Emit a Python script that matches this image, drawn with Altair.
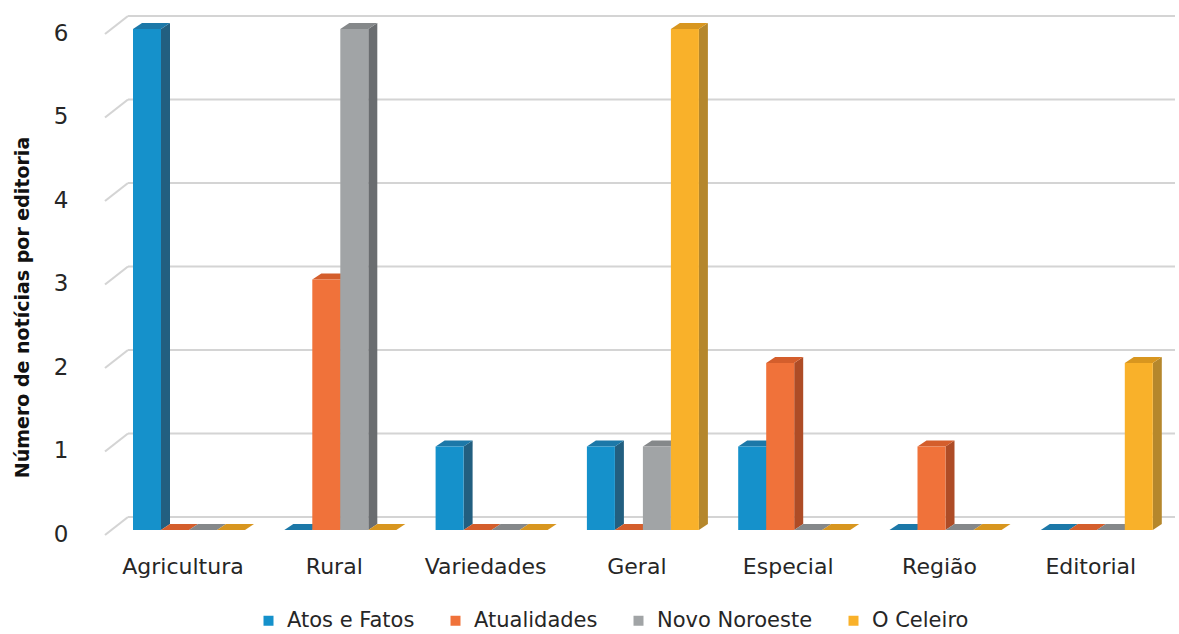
import altair as alt
import pandas as pd

# ---------------- data ----------------
categories = ["Agricultura", "Rural", "Variedades", "Geral", "Especial", "Região", "Editorial"]
series = ["Atos e Fatos", "Atualidades", "Novo Noroeste", "O Celeiro"]
atos_e_fatos = [6, 0, 1, 1, 1, 0, 0]
atualidades = [0, 3, 0, 0, 2, 1, 0]
novo_noroeste = [0, 6, 0, 1, 0, 0, 0]
o_celeiro = [0, 0, 0, 6, 0, 0, 2]
y_ticks = [0, 1, 2, 3, 4, 5, 6]

front_colors = ["#1591CB", "#F0723A", "#A1A4A6", "#F9B12A"]
side_colors = ["#225F80", "#AE4C26", "#6A6D70", "#B5872C"]
top_colors = ["#1C78A8", "#D45E2C", "#85888A", "#D8961F"]

values = [atos_e_fatos, atualidades, novo_noroeste, o_celeiro]

# ---------------- layout (pixels) ----------------
LEFT, TOP, W, H, BOTTOM = 100, 10, 1079, 530, 94
SX = 151.3          # pixels per category
SY = 83.5           # pixels per unit of value
X_ORIGIN = 113.35   # pixel where first category starts
Y_ZERO = 530        # pixel of value 0 on the bar fronts
BAR_W = 28 / SX
PAD = (SX - 4 * 28) / 2 / SX
DX = 9 / SX         # bar depth (x)
DY = 6 / SY         # bar depth (y)

x_dom = [(LEFT - X_ORIGIN) / SX, (LEFT + W - X_ORIGIN) / SX]
y_dom = [(Y_ZERO - (TOP + H)) / SY, (Y_ZERO - TOP) / SY]

xs = alt.Scale(domain=x_dom, nice=False, zero=False)
ys = alt.Scale(domain=y_dom, nice=False, zero=False)

front_rows, side_rows, top_rows = [], [], []
for i, cat in enumerate(categories):
    for j, s in enumerate(series):
        v = values[j][i]
        x0 = i + PAD + j * BAR_W
        x1 = x0 + BAR_W
        bid = f"{i}-{j}"
        front_rows.append(dict(bar=bid, series=s, x=x0, x2=x1, y=0, y2=v))
        side_rows.append(dict(bar=bid, col=side_colors[j], x=x1, y=0, y2=v))
        side_rows.append(dict(bar=bid, col=side_colors[j], x=x1 + DX, y=DY, y2=v + DY))
        top_rows.append(dict(bar=bid, col=top_colors[j], y=v, x=x0, x2=x1))
        top_rows.append(dict(bar=bid, col=top_colors[j], y=v + DY, x=x0 + DX, x2=x1 + DX))

front_df = pd.DataFrame(front_rows)
side_df = pd.DataFrame(side_rows)
top_df = pd.DataFrame(top_rows)

# gridlines (back wall + diagonal floor edge)
XB = (128 - X_ORIGIN) / SX
XE = (1175 - X_ORIGIN) / SX
XF = (105 - X_ORIGIN) / SX
GB = 13 / SY
GF = -5 / SY
grid_df = pd.DataFrame({
    "v": y_ticks,
    "xb": [XB] * len(y_ticks),
    "xe": [XE] * len(y_ticks),
    "xf": [XF] * len(y_ticks),
})
grid_df["yb"] = grid_df["v"] + GB
grid_df["yf"] = grid_df["v"] + GF

label_df = pd.DataFrame({"cat": categories, "xc": [i + 0.5 for i in range(len(categories))]})

FONT = "DejaVu Sans"
TXT = "#262626"
GRID = "#D4D4D4"

back = alt.Chart(grid_df).mark_rule(color=GRID, strokeWidth=2.2).encode(
    x=alt.X("xb:Q", scale=xs, axis=None),
    x2="xe:Q",
    y=alt.Y("yb:Q", scale=ys,
            axis=alt.Axis(values=y_ticks, format="d", title="Número de notícias  por editoria",
                          domain=False, ticks=False, grid=False,
                          labelFont=FONT, labelFontSize=23, labelColor=TXT,
                          labelPadding=32, labelOffset=4,
                          titleFont=FONT, titleFontSize=19, titleFontWeight="bold",
                          titleColor="#111", titleX=-78, titleY=297, titleAngle=270,
                          titleAlign="center", titleBaseline="middle")),
)
diag = alt.Chart(grid_df).mark_rule(color=GRID, strokeWidth=2.2).encode(
    x=alt.X("xf:Q", scale=xs, axis=None), x2="xb:Q",
    y=alt.Y("yf:Q", scale=ys), y2="yb:Q",
)

side = alt.Chart(side_df).mark_area(orient="vertical", opacity=1).encode(
    x=alt.X("x:Q", scale=xs, axis=None),
    y=alt.Y("y:Q", scale=ys),
    y2="y2:Q",
    detail="bar:N",
    color=alt.Color("col:N", scale=None),
)
top = alt.Chart(top_df).mark_area(orient="horizontal", opacity=1).encode(
    y=alt.Y("y:Q", scale=ys),
    x=alt.X("x:Q", scale=xs, axis=None),
    x2="x2:Q",
    detail="bar:N",
    color=alt.Color("col:N", scale=None),
)
front = alt.Chart(front_df).mark_rect().encode(
    x=alt.X("x:Q", scale=xs, axis=None),
    x2="x2:Q",
    y=alt.Y("y:Q", scale=ys),
    y2="y2:Q",
    color=alt.Color("series:N", sort=series,
                    scale=alt.Scale(domain=series, range=front_colors),
                    legend=alt.Legend(title=None, orient="none", direction="horizontal",
                                      legendX=158, legendY=600, symbolType="square",
                                      symbolSize=100, symbolStrokeWidth=0,
                                      labelFont=FONT, labelFontSize=21, labelColor=TXT,
                                      labelOffset=8, columnPadding=30)),
)

xlabels = alt.Chart(label_df).mark_text(font=FONT, fontSize=22, color=TXT, dx=-6,
                                        baseline="middle", align="center").encode(
    x=alt.X("xc:Q", scale=xs, axis=None),
    y=alt.value(557),
    text="cat:N",
)

chart = alt.layer(back, diag, side, top, front, xlabels).resolve_scale(
    color="independent"
).properties(
    width=W, height=H,
    background="white",
    autosize=alt.AutoSizeParams(type="none"),
    padding={"left": LEFT, "top": TOP, "right": 0, "bottom": BOTTOM},
).configure_view(stroke=None).configure_axis(
    domain=False, ticks=False, grid=False
)

chart.save("out.html", embed_options={"renderer": "svg", "actions": False})
